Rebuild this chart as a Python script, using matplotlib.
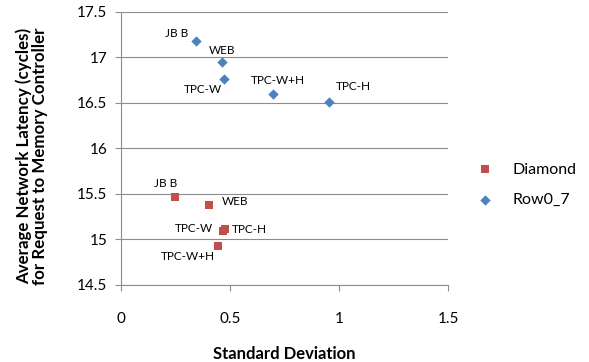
import numpy as np
import matplotlib
matplotlib.use("Agg")
import matplotlib.pyplot as plt

plt.rcParams['font.family'] = ['Lato', 'DejaVu Sans']

labels = ['JB B', 'WEB', 'TPC-W', 'TPC-H', 'TPC-W+H']
diamond_sd = [0.249, 0.402, 0.466, 0.479, 0.446]
diamond_lat = [15.46, 15.37, 15.09, 15.11, 14.92]
row_sd = [0.344, 0.463, 0.471, 0.954, 0.697]
row_lat = [17.18, 16.95, 16.76, 16.51, 16.59]

# label offsets in pixels (x right, y up)
diamond_off = [(-10, 14), (26, 4), (-29, 2), (24, 0), (-30, -10)]
row_off = [(-19, 7), (0, 11), (-21, -11), (24, 15), (5, 14)]

red = '#C0504D'
blue = '#4F81BD'
grid = '#8C8C8C'

fig = plt.figure(figsize=(5.89, 3.62), dpi=100)
ax = fig.add_axes([0.2054, 0.214, 0.5552, 0.754])

ax.scatter(diamond_sd, diamond_lat, marker='s', s=40, color=red, label='Diamond', zorder=3, linewidths=0)
ax.scatter(row_sd, row_lat, marker='D', s=28, color=blue, label='Row0_7', zorder=3, linewidths=0)

for lab, x, y, off in zip(labels, diamond_sd, diamond_lat, diamond_off):
    ax.annotate(lab, (x, y), xytext=off, textcoords='offset pixels',
                ha='center', va='center', fontsize=8.5)
for lab, x, y, off in zip(labels, row_sd, row_lat, row_off):
    ax.annotate(lab, (x, y), xytext=off, textcoords='offset pixels',
                ha='center', va='center', fontsize=8.5)

ax.set_xlim(0, 1.5)
ax.set_ylim(14.5, 17.5)
ax.set_xticks([0, 0.5, 1, 1.5])
ax.set_xticklabels(['0', '0.5', '1', '1.5'])
ax.set_yticks(np.arange(14.5, 17.51, 0.5))
ax.set_yticklabels(['14.5', '15', '15.5', '16', '16.5', '17', '17.5'])
ax.yaxis.grid(True, color=grid, linewidth=0.8)
ax.set_axisbelow(True)

for side in ['top', 'right']:
    ax.spines[side].set_visible(False)
for side in ['left', 'bottom']:
    ax.spines[side].set_color(grid)
    ax.spines[side].set_linewidth(0.8)
ax.tick_params(axis='both', colors=grid, labelcolor='black', labelsize=11,
               direction='out', length=4, width=0.8)
ax.tick_params(axis='x', pad=16)
ax.tick_params(axis='y', pad=6)

ax.set_xlabel('Standard Deviation', fontsize=12, fontweight='bold', labelpad=14)
ax.set_ylabel('Average Network Latency (cycles)\nfor Request to Memory Controller',
              fontsize=12.2, fontweight='bold', linespacing=1.0)
ax.yaxis.set_label_coords(-0.222, 0.47)

ax.legend(loc='upper left', bbox_to_anchor=(1.02, 0.50), frameon=False,
          fontsize=11.5, handletextpad=0.7, labelspacing=1.0, scatterpoints=1)

fig.savefig('out.png', dpi=100)
